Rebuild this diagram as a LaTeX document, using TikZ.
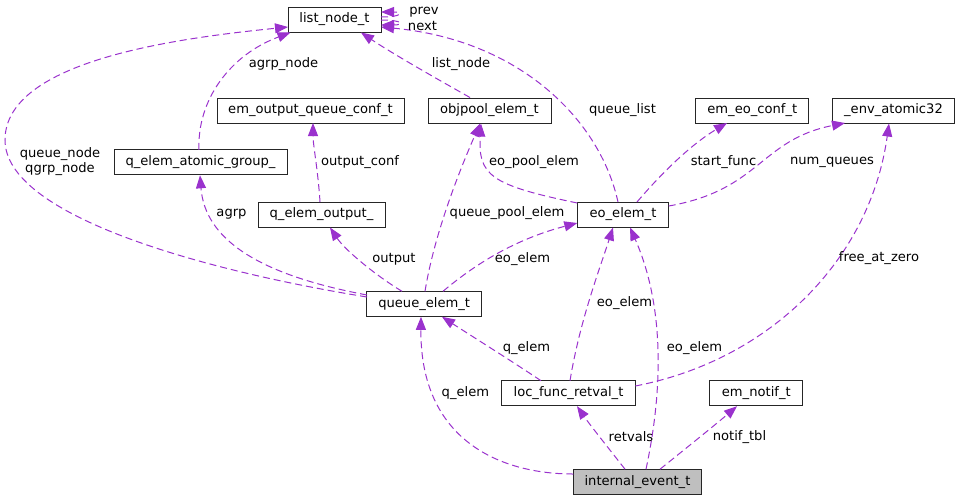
\documentclass[tikz,border=0pt]{standalone}
\usepackage{fontspec}
\setmainfont{DejaVu Sans}
\usetikzlibrary{arrows.meta,calc}
\definecolor{edgec}{HTML}{9A32CD}
\definecolor{hilite}{HTML}{BFBFBF}
\begin{document}
\begin{tikzpicture}[x=1pt,y=-1pt,font=\fontsize{13.1}{15.5}\selectfont,
  cls/.style={draw=black!85, line width=1pt, fill=white, minimum height=25pt, inner sep=0pt},
  rel/.style={draw=edgec, line width=1pt, dash pattern=on 7pt off 4pt, -{Triangle[length=13pt,width=10pt]}},
  lbl/.style={inner sep=0pt, text=black, align=center}]
\useasboundingbox (0,0) rectangle (960,501);
% nodes
\node[cls, minimum width=93pt]    (ln)  at (334.5,19.5)  {list\_node\_t};
\node[cls, minimum width=187pt]   (eoq) at (310.5,110.5) {em\_output\_queue\_conf\_t};
\node[cls, minimum width=123pt]   (op)  at (489.5,110.5) {objpool\_elem\_t};
\node[cls, minimum width=113pt]   (ee)  at (752.3,110.5) {em\_eo\_conf\_t};
\node[cls, minimum width=121.6pt] (ea)  at (893.5,110.5) {\_env\_atomic32};
\node[cls, minimum width=173pt]   (qa)  at (200.5,162.3) {q\_elem\_atomic\_group\_};
\node[cls, minimum width=127pt]   (qo)  at (321.5,214.5) {q\_elem\_output\_};
\node[cls, minimum width=91.4pt]  (eo)  at (623,214.5)   {eo\_elem\_t};
\node[cls, minimum width=115pt]   (qe)  at (424.2,303.8) {queue\_elem\_t};
\node[cls, minimum width=133.6pt] (lf)  at (568.5,393.2) {loc\_func\_retval\_t};
\node[cls, minimum width=92.7pt]  (en)  at (756.3,393.2) {em\_notif\_t};
\node[cls, minimum width=128.4pt, fill=hilite] (ie) at (637.5,482.2) {internal\_event\_t};
% edges
\draw[rel] ($(ln)+(46.5,-2.5)$) .. controls (403,17) and (403,12) .. ($(ln)+(46.5,-7.5)$);
\draw[rel] ($(ln)+(46.5,0.5)$) .. controls (404,20) and (404,25) .. ($(ln)+(46.5,5.5)$);
\draw[rel] ($(qe)+(-57.2,-6.8)$) .. controls (200,270) and (5,215) .. (5,140)
           .. controls (5,60) and (180,38) .. ($(ln)+(-46.5,7.5)$);
\draw[rel] ($(qe)+(-57.2,-8.8)$) .. controls (260,275) and (205,240) .. ($(qa)+(-0.5,13)$);
\draw[rel] ($(qa)+(-1.5,-12.5)$) .. controls (197,100) and (230,55) .. ($(ln)+(-44,13)$);
\draw[rel] ($(op)+(-19.5,-13)$) .. controls (430,75) and (390,52) .. ($(ln)+(26.5,13)$);
\draw[rel] ($(eo)+(-5,-12.5)$) .. controls (600,120) and (520,40) .. ($(ln)+(46.5,7.5)$);
\draw[rel] ($(qo)+(-1.5,-12.5)$) .. controls (318,170) and (313,145) .. ($(eoq)+(2.5,12.5)$);
\draw[rel] ($(qe)+(-22.2,-12.5)$) .. controls (375,275) and (345,250) .. ($(qo)+(8.5,13)$);
\draw[rel] ($(qe)+(0.8,-12.5)$) .. controls (435,230) and (462,165) .. ($(op)+(-9.5,13)$);
\draw[rel] ($(eo)+(-45.7,-11.5)$) .. controls (490,185) and (478,175) .. ($(op)+(-8.5,13)$);
\draw[rel] ($(qe)+(18.8,-12.5)$) .. controls (480,260) and (520,238) .. ($(eo)+(-45.7,8.5)$);
\draw[rel] ($(eo)+(14,-12.5)$) .. controls (660,175) and (690,145) .. ($(ee)+(-25.3,12.5)$);
\draw[rel] ($(eo)+(45.7,-8.5)$) .. controls (760,190) and (760,140) .. ($(ea)+(-48.5,12.5)$);
\draw[rel] ($(lf)+(66.8,-7.2)$) .. controls (770,360) and (870,260) .. ($(ea)+(-4.5,13)$);
\draw[rel] ($(lf)+(1.5,-12.5)$) .. controls (580,320) and (600,268) .. ($(eo)+(-10,13)$);
\draw[rel] ($(ie)+(8.5,-13)$) .. controls (665,380) and (662,300) .. ($(eo)+(7,13)$);
\draw[rel] ($(lf)+(-27.5,-12.5)$) .. controls (510,360) and (470,335) .. ($(qe)+(17.8,13)$);
\draw[rel] ($(ie)+(-64.2,-8.2)$) .. controls (500,474) and (420,440) .. ($(qe)+(-3.2,13)$);
\draw[rel] ($(ie)+(-12.5,-13)$) .. controls (610,450) and (590,425) .. ($(lf)+(8.5,13)$);
\draw[rel] ($(ie)+(22.5,-13)$) .. controls (690,445) and (715,425) .. ($(en)+(-19.3,13)$);
% labels
\node[lbl] (lprev) at (424,12)   {prev};
\node[lbl] (lnext) at (422.5,26) {next};
\node[lbl] (lqn)   at (60,161.5) {queue\_node\\qgrp\_node};
\node[lbl] (lagn)  at (283.5,64) {agrp\_node};
\node[lbl] (lln)   at (461,64)   {list\_node};
\node[lbl] (loc)   at (360,162)  {output\_conf};
\node[lbl] (lagrp) at (231.5,214) {agrp};
\node[lbl] (lql)   at (622.5,110) {queue\_list};
\node[lbl] (lepe)  at (534,162)  {eo\_pool\_elem};
\node[lbl] (lsf)   at (723.5,162) {start\_func};
\node[lbl] (lnq)   at (832,162)  {num\_queues};
\node[lbl] (lout)  at (394,259)  {output};
\node[lbl] (lqpe)  at (507,213)  {queue\_pool\_elem};
\node[lbl] (lee1)  at (522.5,259) {eo\_elem};
\node[lbl] (lee2)  at (624.5,302.7) {eo\_elem};
\node[lbl] (lfaz)  at (879,258)  {free\_at\_zero};
\node[lbl] (lqe1)  at (526.5,347.7) {q\_elem};
\node[lbl] (lee3)  at (694.5,347.7) {eo\_elem};
\node[lbl] (lqe2)  at (465.4,392.7) {q\_elem};
\node[lbl] (lrv)   at (631,436.7) {retvals};
\node[lbl] (lnt)   at (739.5,436.7) {notif\_tbl};
\end{tikzpicture}
\end{document}
